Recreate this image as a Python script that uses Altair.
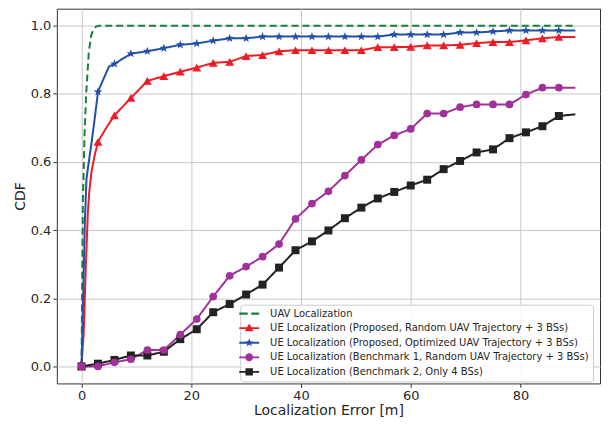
import altair as alt
import pandas as pd

series_names = [
    "UAV Localization",
    "UE Localization (Proposed, Random UAV Trajectory + 3 BSs)",
    "UE Localization (Proposed, Optimized UAV Trajectory + 3 BSs)",
    "UE Localization (Benchmark 1, Random UAV Trajectory + 3 BSs)",
    "UE Localization (Benchmark 2, Only 4 BSs)",
]
colors = ["#1a7f3e", "#ee1d25", "#2350a8", "#a2309b", "#222222"]

x_ticks = [0, 20, 40, 60, 80]
y_ticks = [0.0, 0.2, 0.4, 0.6, 0.8, 1.0]

# marker positions (every 3 m)
marker_x = list(range(0, 90, 3))

red_m = [0, 0.659, 0.737, 0.788, 0.838, 0.852, 0.865, 0.877, 0.891, 0.894,
         0.911, 0.914, 0.925, 0.928, 0.928, 0.928, 0.928, 0.928, 0.937, 0.937,
         0.938, 0.942, 0.942, 0.944, 0.949, 0.952, 0.952, 0.957, 0.963, 0.967]
blue_m = [0, 0.806, 0.888, 0.918, 0.925, 0.934, 0.944, 0.948, 0.956, 0.963,
          0.963, 0.968, 0.968, 0.968, 0.968, 0.968, 0.968, 0.968, 0.968, 0.974,
          0.974, 0.974, 0.974, 0.980, 0.980, 0.983, 0.986, 0.986, 0.986, 0.986]
purple_m = [0, 0, 0.012, 0.021, 0.048, 0.048, 0.093, 0.139, 0.205, 0.266,
            0.293, 0.322, 0.359, 0.433, 0.478, 0.514, 0.560, 0.606, 0.651, 0.678,
            0.697, 0.742, 0.742, 0.761, 0.769, 0.769, 0.769, 0.798, 0.818, 0.818]
black_m = [0, 0.008, 0.019, 0.032, 0.032, 0.043, 0.080, 0.109, 0.159, 0.183,
           0.211, 0.240, 0.290, 0.341, 0.367, 0.399, 0.435, 0.466, 0.493, 0.512,
           0.531, 0.548, 0.579, 0.603, 0.628, 0.637, 0.670, 0.687, 0.705, 0.735]

# UAV curve (no markers)
green_x = [0, 0.1, 0.25, 0.36, 0.55, 0.85, 1.33, 1.76, 2.2, 2.7, 3.2, 90]
green_y = [0, 0.2, 0.49, 0.55, 0.684, 0.8, 0.923, 0.971, 0.99, 0.998, 1.0, 1.0]

# extra points on the steep early part of the curves
red_early_x = [0.4, 0.8, 1.15, 1.4, 1.8, 2.4, 4.5]
red_early_y = [0.1, 0.3, 0.45, 0.51, 0.57, 0.62, 0.70]
blue_early_x = [0.3, 0.6, 0.9, 1.45, 1.88, 2.5, 3.9, 5.0]
blue_early_y = [0.2, 0.42, 0.55, 0.615, 0.663, 0.74, 0.84, 0.88]

# value at the end of each curve (x = 90)
end_x = 90
red_end, blue_end, purple_end, black_end = 0.967, 0.986, 0.818, 0.74


def line_rows(name, xs_, ys_):
    pts = sorted(zip(xs_, ys_), key=lambda p: p[0])
    return [{"series": name, "x": p[0], "y": p[1], "o": i} for i, p in enumerate(pts)]


rows = []
rows += line_rows(series_names[0], green_x, green_y)
rows += line_rows(series_names[1], marker_x + red_early_x + [end_x], red_m + red_early_y + [red_end])
rows += line_rows(series_names[2], marker_x + blue_early_x + [end_x], blue_m + blue_early_y + [blue_end])
rows += line_rows(series_names[3], marker_x + [end_x], purple_m + [purple_end])
rows += line_rows(series_names[4], marker_x + [end_x], black_m + [black_end])
lines_df = pd.DataFrame(rows)

mrows = []
for name, vals in [(series_names[1], red_m), (series_names[2], blue_m),
                   (series_names[3], purple_m), (series_names[4], black_m)]:
    mrows += [{"series": name, "x": x, "y": y} for x, y in zip(marker_x, vals)]
markers_df = pd.DataFrame(mrows)

xs = alt.Scale(domain=[-4.5, 94.5], nice=False, zero=False)
ys = alt.Scale(domain=[-0.05, 1.05], nice=False, zero=False)
cs = alt.Scale(domain=series_names, range=colors)

X_axis = alt.X("x:Q", scale=xs, axis=alt.Axis(values=x_ticks, title="Localization Error [m]",
                                              format="d", tickSize=4, labelPadding=2, titlePadding=1))
Y_axis = alt.Y("y:Q", scale=ys, axis=alt.Axis(values=y_ticks, title="CDF", format=".1f",
                                              tickSize=4, labelPadding=2, titlePadding=3))
X = alt.X("x:Q", scale=xs)
Y = alt.Y("y:Q", scale=ys)
C = alt.Color("series:N", scale=cs)

star_path = ("M0,-1L0.235,-0.324L0.951,-0.309L0.38,0.124L0.588,0.809L0,0.4"
             "L-0.588,0.809L-0.38,0.124L-0.951,-0.309L-0.235,-0.324Z")

# legend symbol paths: a line segment combined with the marker
seg = "M-2,-0.18L2,-0.18L2,0.18L-2,0.18Z"
leg_shapes = [
    "M-2,-0.22L-0.3,-0.22L-0.3,0.22L-2,0.22Z M0.4,-0.22L2,-0.22L2,0.22L0.4,0.22Z",
    seg + " M0,-0.95L0.9,0.6L-0.9,0.6Z",
    seg + " M0,-0.9L0.212,-0.291L0.856,-0.278L0.342,0.111L0.529,0.728L0,0.36"
          "L-0.529,0.728L-0.342,0.111L-0.856,-0.278L-0.212,-0.291Z",
    seg + " M0.8,0A0.8,0.8,0,1,1,-0.8,0A0.8,0.8,0,1,1,0.8,0Z",
    seg + " M-0.75,-0.75L0.75,-0.75L0.75,0.75L-0.75,0.75Z",
]

leg = alt.Legend(
    title=None, orient="none", legendX=184, legendY=297,
    fillColor="rgba(255,255,255,0.85)", strokeColor="#cccccc",
    cornerRadius=3, padding=4, labelFont="DejaVu Sans", labelFontSize=10,
    labelColor="#262626", labelLimit=0, labelOffset=16, rowPadding=4.6,
    symbolSize=100, symbolOpacity=1, symbolStrokeWidth=0,
)

proxy_df = pd.DataFrame({"series": series_names, "x": [0] * 5, "y": [0] * 5})
proxy = alt.Chart(proxy_df).mark_point(filled=True, opacity=0, size=100).encode(
    x=X_axis, y=Y_axis,
    color=alt.Color("series:N", scale=cs, legend=leg),
    shape=alt.Shape("series:N", scale=alt.Scale(domain=series_names, range=leg_shapes), legend=leg),
)

lines = alt.Chart(lines_df).mark_line(strokeWidth=2).encode(
    x=X, y=Y, color=C,
    strokeDash=alt.StrokeDash("series:N", scale=alt.Scale(
        domain=series_names, range=[[7, 4], [1, 0], [1, 0], [1, 0], [1, 0]]), legend=None),
    order="o:Q",
)


def point_layer(name, shape, size):
    return alt.Chart(markers_df).transform_filter(
        alt.datum.series == name
    ).mark_point(filled=True, shape=shape, size=size, opacity=1).encode(x=X, y=Y, color=C)


chart = alt.layer(
    proxy,
    lines,
    point_layer(series_names[1], "triangle-up", 80),
    point_layer(series_names[2], star_path, 85),
    point_layer(series_names[4], "square", 64),
    point_layer(series_names[3], "circle", 60),
).properties(
    width=545, height=376,
    autosize=alt.AutoSizeParams(type="none"),
    padding={"left": 49, "top": 0, "right": 5, "bottom": 34},
).configure_view(
    stroke="#333333", strokeWidth=1
).configure_axis(
    grid=True, gridColor="#c8c8c8", gridWidth=1, domain=False,
    tickColor="#333333", labelFont="DejaVu Sans", labelFontSize=13, labelColor="#262626",
    titleFont="DejaVu Sans", titleFontSize=14, titleFontWeight="normal", titleColor="#262626",
)

chart.save("out.html", embed_options={"renderer": "svg", "actions": False})
